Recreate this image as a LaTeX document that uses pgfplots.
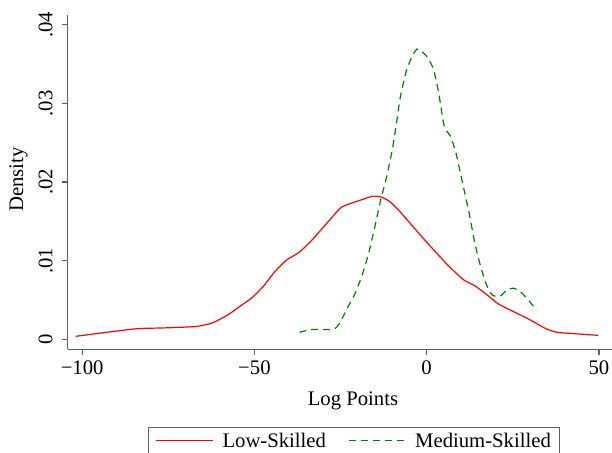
\documentclass[border=0pt]{standalone}
\usepackage{fontspec}
\setmainfont{Liberation Serif}
\usepackage{pgfplots}
\pgfplotsset{compat=1.18}
\definecolor{sred}{RGB}{255,0,0}
\definecolor{sgreen}{RGB}{0,128,0}
\definecolor{axgray}{RGB}{95,95,95}
\begin{document}
\begin{tikzpicture}[font=\fontsize{20.7bp}{24bp}\selectfont]
\begin{axis}[
  at={(0,0)}, anchor=south west,
  scale only axis, width=544.3bp, height=334.3bp,
  xmin=-104.2, xmax=53.8, ymin=-0.00127, ymax=0.04123,
  axis x line*=bottom, axis y line*=left,
  axis line style={-, axgray, line width=1.2bp},
  xtick={-100,-50,0,50}, xticklabels={−100,−50,0,50},
  ytick={0,0.01,0.02,0.03,0.04}, yticklabels={0,.01,.02,.03,.04},
  scaled y ticks=false,
  /pgf/number format/assume math mode=true,
  tick align=outside, major tick length=5.5bp,
  tick style={axgray, line width=1.2bp},
  yticklabel style={rotate=90, anchor=south, font=\fontsize{20.7bp}{24bp}\selectfont},
  yticklabel shift=6bp,
  xticklabel style={anchor=north, font=\fontsize{20.7bp}{24bp}\selectfont},
  xticklabel shift=2bp,
  xlabel={Log Points}, ylabel={Density},
  xlabel style={at={(axis description cs:0.524,-0.155)}, anchor=center, font=\fontsize{20.7bp}{24bp}\selectfont},
  ylabel style={at={(axis description cs:-0.0904,0.508)}, anchor=center, rotate=0, font=\fontsize{20.7bp}{24bp}\selectfont},
  legend columns=2,
  legend style={at={(0.1470,-0.2333)}, anchor=north west, draw=axgray, line width=1.2bp,
    inner xsep=7bp, inner ysep=3bp, font=\fontsize{20.7bp}{24bp}\selectfont,
    /tikz/every odd column/.append style={column sep=7bp},
    /tikz/every even column/.append style={column sep=20bp}},
  legend image code/.code={\draw[#1] (0bp,0bp) -- (57bp,0bp);},
]
\addplot[sred, line width=1.2bp, smooth, tension=0.4] coordinates {
(-101.9,0.00038) (-90.6,0.00102) (-83.75,0.00136) (-76.9,0.00144) (-71.25,0.00153)
(-66.7,0.00165) (-62.2,0.00208) (-57.6,0.00314) (-54.2,0.0042) (-50.8,0.00525)
(-47.4,0.00674) (-44.0,0.00864) (-40.6,0.0101) (-37.2,0.0110) (-33.75,0.0124)
(-30.3,0.0141) (-26.9,0.0158) (-24.7,0.0168) (-21.25,0.0174) (-17.8,0.0179)
(-15.6,0.0182) (-13.3,0.0181) (-11.0,0.0176) (-8.75,0.0167) (-5.3,0.0150)
(-1.9,0.0133) (0.3,0.0122) (2.6,0.0111) (6.0,0.0095) (10.6,0.0076)
(14.0,0.0068) (17.4,0.0057) (20.8,0.0045) (25.3,0.0035) (29.9,0.0025)
(34.4,0.0014) (37.8,0.0009) (43.5,0.0007) (49.8,0.0005)
};
\addlegendentry{Low-Skilled}
\addplot[sgreen, line width=1.2bp, dash pattern=on 7bp off 5bp, smooth, tension=0.4] coordinates {
(-36.9,0.00089) (-33.75,0.00123) (-30.3,0.00123) (-26.9,0.00131) (-25.2,0.00208)
(-23.0,0.0040) (-20.7,0.0059) (-18.4,0.0086) (-16.7,0.0112) (-15.0,0.0144)
(-13.3,0.0178) (-11.6,0.0207) (-9.9,0.0243) (-8.75,0.0275) (-7.6,0.0309)
(-5.9,0.0341) (-4.2,0.0360) (-2.8,0.0369) (-1.4,0.0366) (0.3,0.0358)
(2.0,0.0343) (3.5,0.0313) (5.1,0.0271) (6.9,0.0258) (8.5,0.0237)
(10.3,0.0201) (12.3,0.0161) (14.0,0.0122) (15.7,0.0092) (17.4,0.0069)
(19.1,0.0056) (21.4,0.0055) (23.1,0.0062) (25.3,0.0065) (27.6,0.0059)
(29.9,0.0048) (31.9,0.0037)
};
\addlegendentry{Medium-Skilled}
\end{axis}
\pgfresetboundingbox
\path[use as bounding box] (-67.7bp,-103.7bp) rectangle (544.3bp,349.3bp);
\end{tikzpicture}
\end{document}
